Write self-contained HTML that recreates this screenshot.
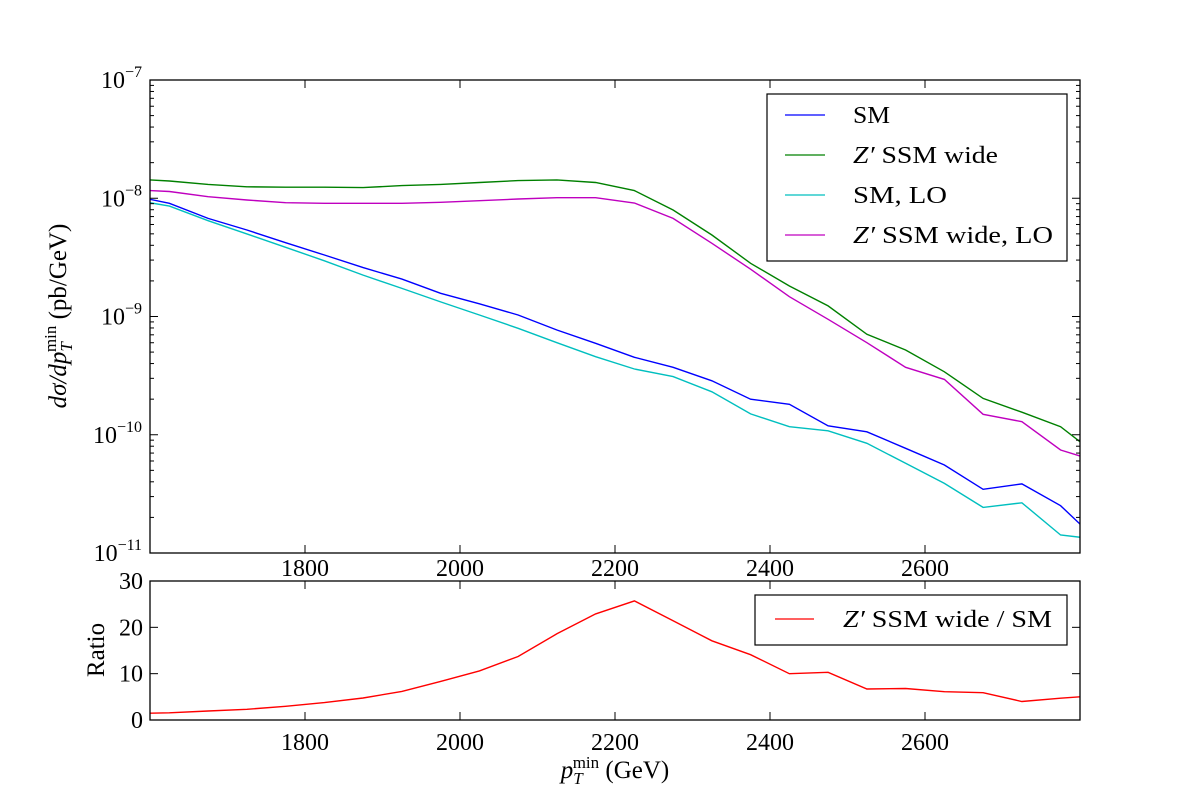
<!DOCTYPE html>
<html><head><meta charset="utf-8"><style>
body{margin:0;background:#fff}
svg{font-family:"Liberation Serif",serif;}
</style></head><body>
<svg id="c" width="1200" height="800" viewBox="0 0 1200 800">
<rect width="1200" height="800" fill="#fff"/>
<defs>
<clipPath id="clipTop"><rect x="150" y="80" width="930" height="473"/></clipPath>
<clipPath id="clipBot"><rect x="150" y="581" width="930" height="139"/></clipPath>
</defs>
<g id="topLines" clip-path="url(#clipTop)"></g>
<g id="botLines" clip-path="url(#clipBot)"></g>
<g id="axes"></g>
<g>
<rect x="767" y="94" width="300" height="167" fill="#fff" stroke="#000" stroke-width="1.2"/>
<g><line x1="785" y1="115" x2="825" y2="115" stroke="#0000ff" stroke-width="1.3"/><text x="853" y="123" font-size="24" textLength="37" lengthAdjust="spacingAndGlyphs">SM</text></g>
<g><line x1="785" y1="155" x2="825" y2="155" stroke="#008000" stroke-width="1.3"/><text x="853" y="163" font-size="24" textLength="145" lengthAdjust="spacingAndGlyphs"><tspan font-style="italic">Z′</tspan> SSM wide</text></g>
<g><line x1="785" y1="195" x2="825" y2="195" stroke="#00bfbf" stroke-width="1.3"/><text x="853" y="203" font-size="24" textLength="94" lengthAdjust="spacingAndGlyphs">SM,  LO</text></g>
<g><line x1="785" y1="235" x2="825" y2="235" stroke="#bf00bf" stroke-width="1.3"/><text x="853" y="243" font-size="24" textLength="200" lengthAdjust="spacingAndGlyphs"><tspan font-style="italic">Z′</tspan> SSM wide,  LO</text></g>
</g>
<g>
<rect x="755" y="595" width="312" height="50" fill="#fff" stroke="#000" stroke-width="1.2"/>
<line x1="775" y1="619" x2="814" y2="619" stroke="#ff0000" stroke-width="1.3"/>
<text x="843" y="627" font-size="24" textLength="209" lengthAdjust="spacingAndGlyphs"><tspan font-style="italic">Z′</tspan> SSM wide / SM</text>
</g>
<text transform="translate(66,316) rotate(-90)" text-anchor="middle" font-size="25"><tspan font-style="italic">dσ/dp</tspan><tspan font-style="italic" font-size="17" dy="6">T</tspan><tspan font-size="17" dy="-16" dx="-10">min</tspan><tspan dy="10"> (pb/GeV)</tspan></text>
<text transform="translate(104,650) rotate(-90)" text-anchor="middle" font-size="25">Ratio</text>
<text x="615" y="778" text-anchor="middle" font-size="25"><tspan font-style="italic">p</tspan><tspan font-style="italic" font-size="17" dy="6">T</tspan><tspan font-size="17" dy="-16" dx="-10">min</tspan><tspan dy="10"> (GeV)</tspan></text>
</svg>
<script>
const xs = [1575,1625,1675,1725,1775,1825,1875,1925,1975,2025,2075,2125,2175,2225,2275,2325,2375,2425,2475,2525,2575,2625,2675,2725,2775,2825];
const smNLO = [1.06e-8,9.06e-9,6.76e-9,5.39e-9,4.21e-9,3.31e-9,2.59e-9,2.07e-9,1.57e-9,1.28e-9,1.03e-9,7.69e-10,5.93e-10,4.52e-10,3.72e-10,2.86e-10,2.0e-10,1.81e-10,1.19e-10,1.06e-10,7.68e-11,5.55e-11,3.46e-11,3.84e-11,2.51e-11,1.23e-11];
const zpWide = [1.46e-8,1.40e-8,1.31e-8,1.25e-8,1.24e-8,1.24e-8,1.23e-8,1.28e-8,1.31e-8,1.36e-8,1.41e-8,1.43e-8,1.36e-8,1.16e-8,7.96e-9,4.89e-9,2.82e-9,1.81e-9,1.23e-9,7.07e-10,5.21e-10,3.41e-10,2.03e-10,1.55e-10,1.17e-10,6.5e-11];
const smLO = [9.77e-9,8.59e-9,6.46e-9,4.99e-9,3.85e-9,2.96e-9,2.24e-9,1.73e-9,1.33e-9,1.03e-9,7.94e-10,6.0e-10,4.57e-10,3.60e-10,3.10e-10,2.31e-10,1.50e-10,1.17e-10,1.08e-10,8.47e-11,5.74e-11,3.88e-11,2.43e-11,2.66e-11,1.42e-11,1.30e-11];
const zpWideLO = [1.18e-8,1.14e-8,1.03e-8,9.67e-9,9.17e-9,9.06e-9,9.06e-9,9.06e-9,9.25e-9,9.53e-9,9.86e-9,1.01e-8,1.01e-8,9.12e-9,6.76e-9,4.16e-9,2.51e-9,1.47e-9,9.47e-10,6.0e-10,3.72e-10,2.94e-10,1.49e-10,1.29e-10,7.43e-11,5.88e-11];
const ratio = [1.38,1.55,1.94,2.32,2.95,3.75,4.75,6.18,8.34,10.6,13.7,18.6,22.9,25.7,21.4,17.1,14.1,10.0,10.3,6.7,6.8,6.1,5.9,4.0,4.7,5.3];
const xTicks = [1800,2000,2200,2400,2600];
const yDecades = [-11,-10,-9,-8,-7];
const ratioTicks = [0,10,20,30];

const NS="http://www.w3.org/2000/svg";
const X0=150,X1=1080,XMIN=1600,XMAX=2800;
const TY0=80,TY1=553,LMIN=-11,LMAX=-7;
const BY0=581,BY1=720,RMIN=0,RMAX=30;
const sx=v=>X0+(v-XMIN)/(XMAX-XMIN)*(X1-X0);
const sy=v=>TY1-(Math.log10(v)-LMIN)/(LMAX-LMIN)*(TY1-TY0);
const sr=v=>BY1-(v-RMIN)/(RMAX-RMIN)*(BY1-BY0);
function mk(tag,attrs,parent){const e=document.createElementNS(NS,tag);for(const k in attrs)e.setAttribute(k,attrs[k]);parent.appendChild(e);return e;}
const gTop=document.getElementById('topLines'),gBot=document.getElementById('botLines'),gAx=document.getElementById('axes');
function series(ys,fn,color,parent,name){
  const p=mk('polyline',{points:xs.map((x,i)=>sx(x).toFixed(1)+','+fn(ys[i]).toFixed(1)).join(' '),fill:'none',stroke:color,'stroke-width':1.4},parent);
  
  
}
series(zpWide,sy,'#008000',gTop,'zprime-ssm-wide-line');
series(zpWideLO,sy,'#bf00bf',gTop,'zprime-ssm-wide-lo-line');
series(smLO,sy,'#00bfbf',gTop,'sm-lo-line');
series(smNLO,sy,'#0000ff',gTop,'sm-line');
series(ratio,sr,'#ff0000',gBot,'ratio-line');

mk('rect',{x:X0,y:TY0,width:X1-X0,height:TY1-TY0,fill:'none',stroke:'#000','stroke-width':1.3},gAx);
mk('rect',{x:X0,y:BY0,width:X1-X0,height:BY1-BY0,fill:'none',stroke:'#000','stroke-width':1.3},gAx);
xTicks.forEach(t=>{
  const x=sx(t);
  [[TY0,TY1],[BY0,BY1]].forEach(([a,b])=>{
    mk('line',{x1:x,y1:a,x2:x,y2:a+8,stroke:'#000'},gAx);
    mk('line',{x1:x,y1:b,x2:x,y2:b-8,stroke:'#000'},gAx);
  });
  const l1=mk('text',{x:x,y:576,'text-anchor':'middle','font-size':24},gAx);l1.textContent=t;
  
  
  const l2=mk('text',{x:x,y:750,'text-anchor':'middle','font-size':24},gAx);l2.textContent=t;
  
  
});
yDecades.forEach(d=>{
  const y=sy(Math.pow(10,d));
  mk('line',{x1:X0,y1:y,x2:X0+8,y2:y,stroke:'#000'},gAx);
  mk('line',{x1:X1,y1:y,x2:X1-8,y2:y,stroke:'#000'},gAx);
  const t=mk('text',{x:142,y:y+8,'text-anchor':'end','font-size':24},gAx);
  
  
  t.innerHTML='10<tspan font-size="16" dy="-11">'+(d<0?'−'+(-d):d)+'</tspan>';
  if(d<LMAX){for(let m=2;m<10;m++){const ym=sy(m*Math.pow(10,d));
    mk('line',{x1:X0,y1:ym,x2:X0+4,y2:ym,stroke:'#000'},gAx);
    mk('line',{x1:X1,y1:ym,x2:X1-4,y2:ym,stroke:'#000'},gAx);}}
});
ratioTicks.forEach(r=>{
  const y=sr(r);
  mk('line',{x1:X0,y1:y,x2:X0+8,y2:y,stroke:'#000'},gAx);
  mk('line',{x1:X1,y1:y,x2:X1-8,y2:y,stroke:'#000'},gAx);
  const t=mk('text',{x:143,y:y+8,'text-anchor':'end','font-size':24},gAx);t.textContent=r;
  
  
});
</script>
</body></html>
